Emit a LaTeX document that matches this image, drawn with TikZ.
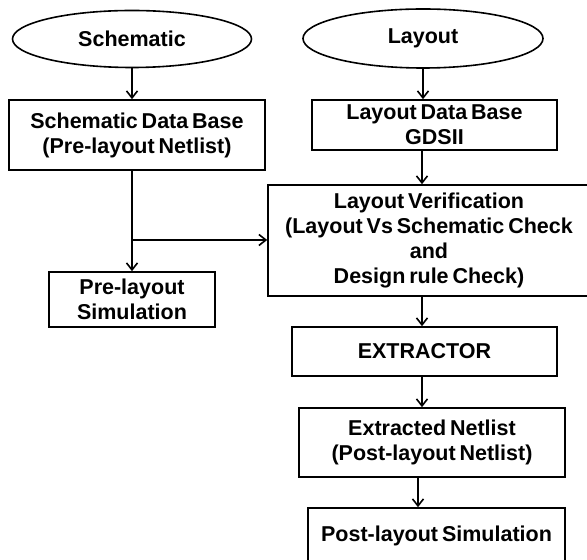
\documentclass[tikz,border=0pt]{standalone}
\usepackage{fontspec}
\setmainfont{Liberation Sans}
\usetikzlibrary{arrows.meta,shapes.geometric}
% bold label text with narrow word gaps
\newcommand\labelfont{\fontsize{21.5}{25}\selectfont\bfseries\spaceskip 0.18em\relax}
\begin{document}
\begin{tikzpicture}[x=1pt,y=1pt,
  every node/.style={font=\labelfont, align=center, inner sep=0pt},
  blk/.style={draw, line width=1.6pt, rectangle},
  oval/.style={draw, line width=1.6pt, ellipse},
  flow/.style={line width=1.6pt, -{Straight Barb[length=7pt,width=11pt,line width=1.6pt]}},
  link/.style={line width=1.6pt}]
\useasboundingbox (0,0) rectangle (587,560);
\clip (0,0) rectangle (587,560);

% left column
\node[oval, minimum width=239pt, minimum height=57pt] (sch) at (132,521) {Schematic};
\node[blk, minimum width=256pt, minimum height=70pt] (sdb) at (137,425)
  {Schematic Data Base\\(Pre-layout Netlist)};
\node[blk, minimum width=166pt, minimum height=55pt] (pre) at (132,260.5)
  {Pre-layout\\Simulation};

% right column
\node[oval, minimum width=240pt, minimum height=59pt] (lay) at (423,521.5) {Layout};
\node[blk, minimum width=245pt, minimum height=50pt] (ldb) at (434.5,435)
  {Layout Data Base\\GDSII};
\node[blk, minimum width=322pt, minimum height=111pt] (lv) at (429,319.5)
  {Layout Verification\\(Layout Vs Schematic Check\\and\\Design rule Check)};
\node[blk, minimum width=265pt, minimum height=49pt] (ext) at (424.5,208.5) {EXTRACTOR};
\node[blk, minimum width=266pt, minimum height=69pt] (exn) at (432,117.5)
  {Extracted Netlist\\(Post-layout Netlist)};
\node[blk, minimum width=257pt, minimum height=56pt] (post) at (436.5,24)
  {Post-layout Simulation};

% branch point below the schematic data base
\coordinate (j) at (132,320);

% connectors
\draw[flow] (sch.south) -- (sch.south |- sdb.north);
\draw[link] (sdb.south -| j) -- (j);
\draw[flow] (j) -- (pre.north);
\draw[flow] (j) -- (j -| lv.west);
\draw[flow] (lay.south) -- (lay.south |- ldb.north);
\draw[flow] ([xshift=-1pt]lay.south |- ldb.south) -- ([xshift=-1pt]lay.south |- lv.north);
\draw[flow] ([xshift=-2.5pt]ext.north |- lv.south) -- ([xshift=-2.5pt]ext.north);
\draw[flow] ([xshift=-2.5pt]ext.south) -- ([xshift=-2.5pt]ext.south |- exn.north);
\draw[flow] ([xshift=-14pt]exn.south) -- ([xshift=-14pt]exn.south |- post.north);
\end{tikzpicture}
\end{document}
